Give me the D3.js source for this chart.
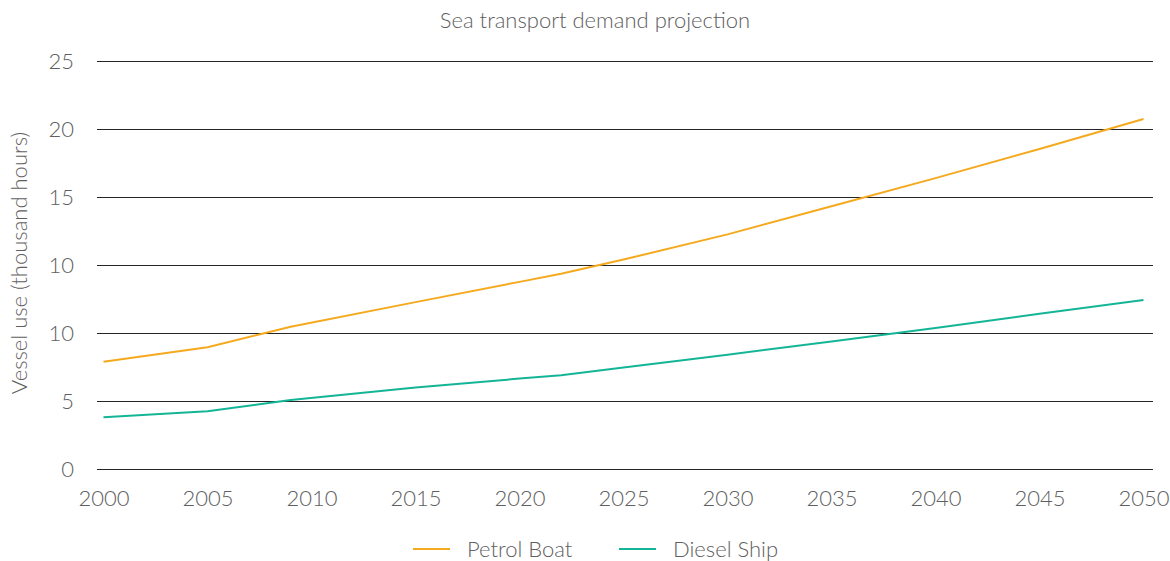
<!DOCTYPE html>
<html lang="en">
<head>
   <meta charset="UTF-8">
   <title>Sea transport demand projection</title>
   <script src="https://cdn.jsdelivr.net/npm/d3@7"></script>
   <style>
      body { margin: 0; background: #fff; }
      svg text { font-family: Lato, "Open Sans", sans-serif; font-weight: 300; fill: #606060; }
   </style>
</head>
<body>
   <svg id="chart" width="1170" height="561"></svg>

   <script>
       // data
       const years = [2000, 2005, 2009, 2015, 2020, 2022, 2025, 2030, 2035, 2040, 2045, 2050];
       const petrolBoat = [7.89, 8.95, 10.46, 12.27, 13.76, 14.35, 15.40, 17.25, 19.32, 21.39, 23.53, 25.74];
       const dieselShip = [3.80, 4.25, 5.07, 5.99, 6.65, 6.89, 7.46, 8.40, 9.38, 10.36, 11.41, 12.43];
       const xTicks = [2000, 2005, 2010, 2015, 2020, 2025, 2030, 2035, 2040, 2045, 2050];
       const yTicks = [0, 5, 10, 15, 20, 25, 30];
       const yTickLabels = ["0", "5", "10", "10", "15", "20", "25"];
       const seriesNames = ["Petrol Boat", "Diesel Ship"];
       const seriesColors = ["#f5a91e", "#14b596"];

       const svg = d3.select('#chart');
       const gridLeft = 97, gridRight = 1153;
       const fontSize = '22px';

       const x = d3.scaleLinear().domain([2000, 2050]).range([103.5, 1143.5]);
       const y = d3.scaleLinear().domain([0, 30]).range([469, 61]);

       // title
       svg.append('text')
           .attr('x', 595).attr('y', 28)
           .attr('text-anchor', 'middle')
           .style('font-size', fontSize)
           .text('Sea transport demand projection');

       // gridlines
       svg.append('g')
           .selectAll('line')
           .data(yTicks)
           .join('line')
           .attr('x1', gridLeft).attr('x2', gridRight)
           .attr('y1', d => Math.round(y(d)) + 0.5)
           .attr('y2', d => Math.round(y(d)) + 0.5)
           .attr('stroke', '#262626')
           .attr('stroke-width', 1);

       // y axis labels
       const yAxis = d3.axisLeft(y)
           .tickValues(yTicks)
           .tickFormat((d, i) => yTickLabels[i])
           .tickSize(0)
           .tickPadding(0);
       svg.append('g')
           .attr('transform', 'translate(74,0)')
           .call(yAxis)
           .call(g => g.select('.domain').remove())
           .selectAll('text')
           .style('font-size', fontSize)
           .attr('font-family', null);

       // x axis labels
       const xAxis = d3.axisBottom(x)
           .tickValues(xTicks)
           .tickFormat(d3.format('d'))
           .tickSize(0)
           .tickPadding(0);
       svg.append('g')
           .attr('transform', 'translate(0,490)')
           .call(xAxis)
           .call(g => g.select('.domain').remove())
           .selectAll('text')
           .style('font-size', fontSize)
           .attr('font-family', null);

       // axis title
       svg.append('text')
           .attr('transform', 'translate(27,263) rotate(-90)')
           .attr('text-anchor', 'middle')
           .style('font-size', fontSize)
           .text('Vessel use (thousand hours)');

       // lines
       const line = d3.line()
           .x((d, i) => x(years[i]))
           .y(d => y(d));

       [petrolBoat, dieselShip].forEach((vals, k) => {
           svg.append('path')
               .datum(vals)
               .attr('d', line)
               .attr('fill', 'none')
               .attr('stroke', seriesColors[k])
               .attr('stroke-width', 2);
       });

       // legend
       const legend = svg.append('g').attr('transform', 'translate(413,549)');
       const legendX = [0, 206];
       seriesNames.forEach((name, k) => {
           const item = legend.append('g').attr('transform', `translate(${legendX[k]},0)`);
           item.append('line')
               .attr('x1', 0).attr('x2', 37)
               .attr('y1', 0).attr('y2', 0)
               .attr('stroke', seriesColors[k])
               .attr('stroke-width', 2);
           item.append('text')
               .attr('x', 54).attr('y', 7.5)
               .style('font-size', fontSize)
               .text(name);
       });
   </script>
</body>
</html>
